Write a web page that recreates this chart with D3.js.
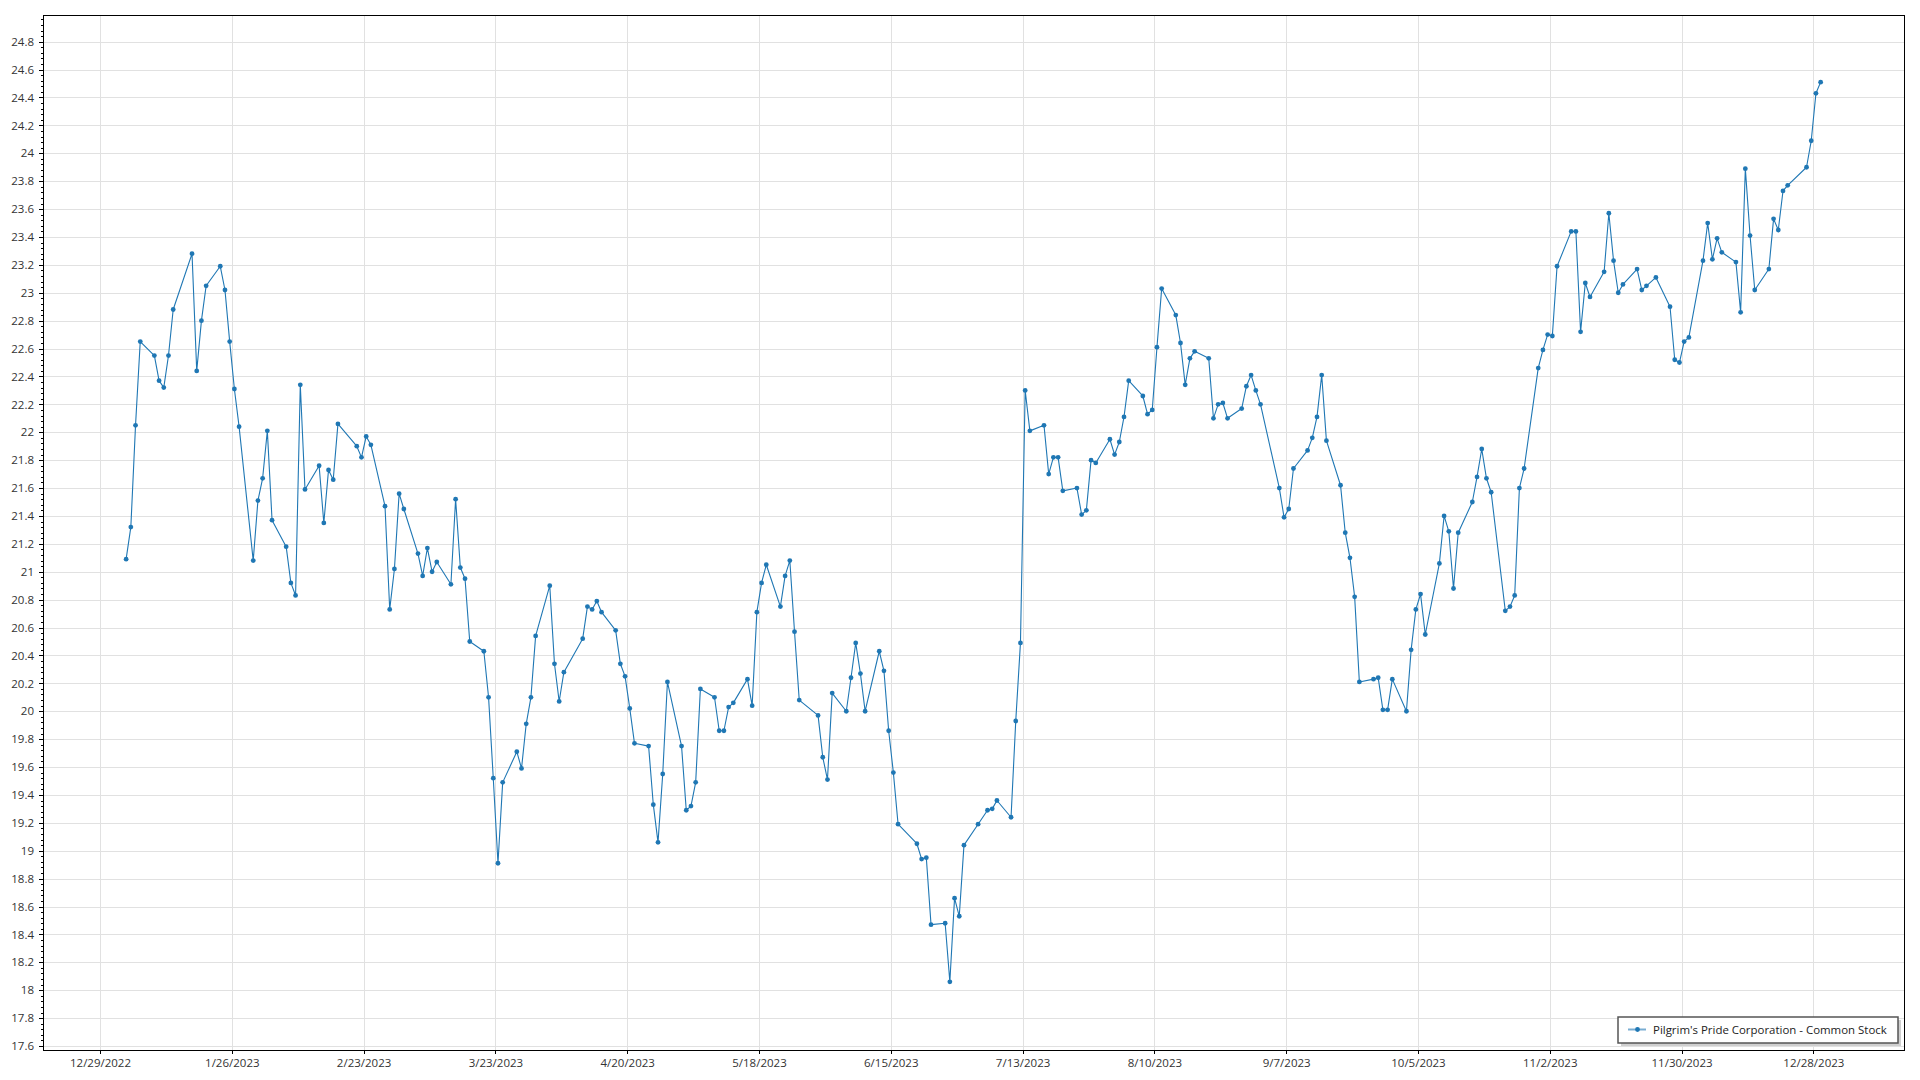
<!DOCTYPE html>
<html>
<head>
<meta charset="utf-8">
<script src="https://cdn.jsdelivr.net/npm/d3@7"></script>
<style>
  html, body { margin: 0; padding: 0; background: #fff; }
  svg { display: block; }
  text { font-family: "Open Sans", "Noto Sans", sans-serif; }
</style>
</head>
<body>
<svg id="chart" width="1920" height="1080"></svg>
<script>
// ---------------- DATA ----------------
const seriesName = "Pilgrim's Pride Corporation - Common Stock";

const dates = [
  "2023-01-03","2023-01-04","2023-01-05","2023-01-06","2023-01-09","2023-01-10","2023-01-11","2023-01-12","2023-01-13",
  "2023-01-17","2023-01-18","2023-01-19","2023-01-20","2023-01-23","2023-01-24","2023-01-25","2023-01-26","2023-01-27",
  "2023-01-30","2023-01-31","2023-02-01","2023-02-02","2023-02-03","2023-02-06","2023-02-07","2023-02-08","2023-02-09",
  "2023-02-10","2023-02-13","2023-02-14","2023-02-15","2023-02-16","2023-02-17","2023-02-21","2023-02-22","2023-02-23",
  "2023-02-24","2023-02-27","2023-02-28","2023-03-01","2023-03-02","2023-03-03","2023-03-06","2023-03-07","2023-03-08",
  "2023-03-09","2023-03-10","2023-03-13","2023-03-14","2023-03-15","2023-03-16","2023-03-17","2023-03-20","2023-03-21",
  "2023-03-22","2023-03-23","2023-03-24","2023-03-27","2023-03-28","2023-03-29","2023-03-30","2023-03-31","2023-04-03",
  "2023-04-04","2023-04-05","2023-04-06","2023-04-10","2023-04-11","2023-04-12","2023-04-13","2023-04-14","2023-04-17",
  "2023-04-18","2023-04-19","2023-04-20","2023-04-21","2023-04-24","2023-04-25","2023-04-26","2023-04-27","2023-04-28",
  "2023-05-01","2023-05-02","2023-05-03","2023-05-04","2023-05-05","2023-05-08","2023-05-09","2023-05-10","2023-05-11",
  "2023-05-12","2023-05-15","2023-05-16","2023-05-17","2023-05-18","2023-05-19","2023-05-22","2023-05-23","2023-05-24",
  "2023-05-25","2023-05-26","2023-05-30","2023-05-31","2023-06-01","2023-06-02","2023-06-05","2023-06-06","2023-06-07",
  "2023-06-08","2023-06-09","2023-06-12","2023-06-13","2023-06-14","2023-06-15","2023-06-16","2023-06-20","2023-06-21",
  "2023-06-22","2023-06-23","2023-06-26","2023-06-27","2023-06-28","2023-06-29","2023-06-30","2023-07-03","2023-07-05",
  "2023-07-06","2023-07-07","2023-07-10","2023-07-11","2023-07-12","2023-07-13","2023-07-14","2023-07-17","2023-07-18",
  "2023-07-19","2023-07-20","2023-07-21","2023-07-24","2023-07-25","2023-07-26","2023-07-27","2023-07-28","2023-07-31",
  "2023-08-01","2023-08-02","2023-08-03","2023-08-04","2023-08-07","2023-08-08","2023-08-09","2023-08-10","2023-08-11",
  "2023-08-14","2023-08-15","2023-08-16","2023-08-17","2023-08-18","2023-08-21","2023-08-22","2023-08-23","2023-08-24",
  "2023-08-25","2023-08-28","2023-08-29","2023-08-30","2023-08-31","2023-09-01","2023-09-05","2023-09-06","2023-09-07",
  "2023-09-08","2023-09-11","2023-09-12","2023-09-13","2023-09-14","2023-09-15","2023-09-18","2023-09-19","2023-09-20",
  "2023-09-21","2023-09-22","2023-09-25","2023-09-26","2023-09-27","2023-09-28","2023-09-29","2023-10-02","2023-10-03",
  "2023-10-04","2023-10-05","2023-10-06","2023-10-09","2023-10-10","2023-10-11","2023-10-12","2023-10-13","2023-10-16",
  "2023-10-17","2023-10-18","2023-10-19","2023-10-20","2023-10-23","2023-10-24","2023-10-25","2023-10-26","2023-10-27",
  "2023-10-30","2023-10-31","2023-11-01","2023-11-02","2023-11-03","2023-11-06","2023-11-07","2023-11-08","2023-11-09",
  "2023-11-10","2023-11-13","2023-11-14","2023-11-15","2023-11-16","2023-11-17","2023-11-20","2023-11-21","2023-11-22",
  "2023-11-24","2023-11-27","2023-11-28","2023-11-29","2023-11-30","2023-12-01","2023-12-04","2023-12-05","2023-12-06",
  "2023-12-07","2023-12-08","2023-12-11","2023-12-12","2023-12-13","2023-12-14","2023-12-15","2023-12-18","2023-12-19",
  "2023-12-20","2023-12-21","2023-12-22","2023-12-26","2023-12-27","2023-12-28","2023-12-29"
];

const prices = [
  21.09,21.32,22.05,22.65,22.55,22.37,22.32,22.55,22.88,
  23.28,22.44,22.80,23.05,23.19,23.02,22.65,22.31,22.04,
  21.08,21.51,21.67,22.01,21.37,21.18,20.92,20.83,22.34,
  21.59,21.76,21.35,21.73,21.66,22.06,21.90,21.82,21.97,
  21.91,21.47,20.73,21.02,21.56,21.45,21.13,20.97,21.17,
  21.00,21.07,20.91,21.52,21.03,20.95,20.50,20.43,20.10,
  19.52,18.91,19.49,19.71,19.59,19.91,20.10,20.54,20.90,
  20.34,20.07,20.28,20.52,20.75,20.73,20.79,20.71,20.58,
  20.34,20.25,20.02,19.77,19.75,19.33,19.06,19.55,20.21,
  19.75,19.29,19.32,19.49,20.16,20.10,19.86,19.86,20.03,
  20.06,20.23,20.04,20.71,20.92,21.05,20.75,20.97,21.08,
  20.57,20.08,19.97,19.67,19.51,20.13,20.00,20.24,20.49,
  20.27,20.00,20.43,20.29,19.86,19.56,19.19,19.05,18.94,
  18.95,18.47,18.48,18.06,18.66,18.53,19.04,19.19,19.29,
  19.30,19.36,19.24,19.93,20.49,22.30,22.01,22.05,21.70,
  21.82,21.82,21.58,21.60,21.41,21.44,21.80,21.78,21.95,
  21.84,21.93,22.11,22.37,22.26,22.13,22.16,22.61,23.03,
  22.84,22.64,22.34,22.53,22.58,22.53,22.10,22.20,22.21,
  22.10,22.17,22.33,22.41,22.30,22.20,21.60,21.39,21.45,
  21.74,21.87,21.96,22.11,22.41,21.94,21.62,21.28,21.10,
  20.82,20.21,20.23,20.24,20.01,20.01,20.23,20.00,20.44,
  20.73,20.84,20.55,21.06,21.40,21.29,20.88,21.28,21.50,
  21.68,21.88,21.67,21.57,20.72,20.75,20.83,21.60,21.74,
  22.46,22.59,22.70,22.69,23.19,23.44,23.44,22.72,23.07,
  22.97,23.15,23.57,23.23,23.00,23.06,23.17,23.02,23.05,
  23.11,22.90,22.52,22.50,22.65,22.68,23.23,23.50,23.24,
  23.39,23.29,23.22,22.86,23.89,23.41,23.02,23.17,23.53,
  23.45,23.73,23.77,23.90,24.09,24.43,24.51
];

const xTickLabels = ["12/29/2022","1/26/2023","2/23/2023","3/23/2023","4/20/2023","5/18/2023","6/15/2023",
  "7/13/2023","8/10/2023","9/7/2023","10/5/2023","11/2/2023","11/30/2023","12/28/2023"];

const yTicks = [17.6,17.8,18,18.2,18.4,18.6,18.8,19,19.2,19.4,19.6,19.8,20,20.2,20.4,20.6,20.8,21,
  21.2,21.4,21.6,21.8,22,22.2,22.4,22.6,22.8,23,23.2,23.4,23.6,23.8,24,24.2,24.4,24.6,24.8];

// ---------------- LAYOUT ----------------
const plot = { left: 43, top: 15, right: 1905, bottom: 1050 };
const DAY = 86400000;
const anchor = Date.UTC(2022, 11, 29);

const parseISO = d3.utcParse("%Y-%m-%d");
const parseTick = d3.utcParse("%m/%d/%Y");

const x = d3.scaleUtc()
  .domain([new Date(anchor - 12.11 * DAY), new Date(anchor + 383.47 * DAY)])
  .range([plot.left, plot.right]);

const y = d3.scaleLinear()
  .domain([17.5713, 24.9914])
  .range([plot.bottom, plot.top]);

const data = dates.map((d, i) => ({ date: new Date(+parseISO(d) + 0.55 * DAY), value: prices[i] }));
const xTicks = xTickLabels.map(s => ({ label: s, date: parseTick(s) }));

const svg = d3.select("#chart");
svg.append("rect").attr("width", 1920).attr("height", 1080).attr("fill", "#fff");

// gridlines
const grid = svg.append("g").attr("shape-rendering", "crispEdges");
grid.selectAll("line.h").data(yTicks).join("line")
  .attr("x1", plot.left).attr("x2", plot.right)
  .attr("y1", d => Math.round(y(d)) + 0.5).attr("y2", d => Math.round(y(d)) + 0.5)
  .attr("stroke", "#e1e1e1").attr("stroke-width", 1);
grid.selectAll("line.v").data(xTicks).join("line")
  .attr("y1", plot.top).attr("y2", plot.bottom)
  .attr("x1", d => Math.round(x(d.date)) + 0.5).attr("x2", d => Math.round(x(d.date)) + 0.5)
  .attr("stroke", "#e1e1e1").attr("stroke-width", 1);

// Y axis (major + minor ticks)
const yAxis = d3.axisLeft(y).tickValues(yTicks).tickSize(4).tickSizeOuter(0)
  .tickFormat(d => String(+d.toFixed(1)));
const gy = svg.append("g").attr("transform", `translate(${plot.left},0)`).call(yAxis);
gy.select(".domain").remove();
gy.selectAll(".tick line").attr("stroke", "#000").attr("shape-rendering", "crispEdges");
gy.selectAll(".tick text").attr("fill", "#333").attr("font-size", 11.5)
  .attr("font-family", "'Open Sans', sans-serif").attr("x", -9);

const minor = d3.range(0, 186).map(i => 17.6 + i * 0.04).filter(v => v <= 24.99);
const yMinorAxis = d3.axisLeft(y).tickValues(minor).tickSize(2).tickFormat("").tickSizeOuter(0);
const gym = svg.append("g").attr("transform", `translate(${plot.left},0)`).call(yMinorAxis);
gym.select(".domain").remove();
gym.selectAll(".tick line").attr("stroke", "#000").attr("shape-rendering", "crispEdges");

// X axis
const xAxis = d3.axisBottom(x).tickValues(xTicks.map(d => d.date)).tickSize(4).tickSizeOuter(0)
  .tickFormat((d, i) => xTickLabels[i]);
const gx = svg.append("g").attr("transform", `translate(0,${plot.bottom})`).call(xAxis);
gx.select(".domain").remove();
gx.selectAll(".tick line").attr("stroke", "#000").attr("shape-rendering", "crispEdges");
gx.selectAll(".tick text").attr("fill", "#333").attr("font-size", 11.5)
  .attr("font-family", "'Open Sans', sans-serif").attr("dy", null).attr("y", 17);

// frame
svg.append("rect")
  .attr("x", plot.left + 0.5).attr("y", plot.top + 0.5)
  .attr("width", plot.right - plot.left - 1).attr("height", plot.bottom - plot.top)
  .attr("fill", "none").attr("stroke", "#000").attr("stroke-width", 1)
  .attr("shape-rendering", "crispEdges");

// series
const line = d3.line().x(d => x(d.date)).y(d => y(d.value));
svg.append("path").datum(data)
  .attr("d", line).attr("fill", "none")
  .attr("stroke", "#1f77b4").attr("stroke-width", 1.1).attr("stroke-linejoin", "round");

svg.append("g").selectAll("circle").data(data).join("circle")
  .attr("cx", d => x(d.date)).attr("cy", d => y(d.value)).attr("r", 2.4)
  .attr("fill", "#1f77b4");

// legend
const lg = svg.append("g");
const lb = { x: 1618, y: 1017, w: 280, h: 26 };
lg.append("rect").attr("x", lb.x + 3).attr("y", lb.y + 3).attr("width", lb.w).attr("height", lb.h)
  .attr("fill", "#cfcfcf");
lg.append("rect").attr("x", lb.x).attr("y", lb.y).attr("width", lb.w).attr("height", lb.h)
  .attr("fill", "#fff").attr("stroke", "#555").attr("stroke-width", 1.5);
lg.append("line").attr("x1", lb.x + 10).attr("x2", lb.x + 28).attr("y1", lb.y + 12.5).attr("y2", lb.y + 12.5)
  .attr("stroke", "#1f77b4").attr("stroke-opacity", 0.6).attr("stroke-width", 2);
lg.append("circle").attr("cx", lb.x + 19.5).attr("cy", lb.y + 12.5).attr("r", 2.4).attr("fill", "#1f77b4");
const lt = lg.append("text").attr("x", lb.x + 35).attr("y", lb.y + 16.5)
  .attr("fill", "#222").attr("font-size", 11.5).text(seriesName);
const w = lt.node().getComputedTextLength();
if (w > 0) lt.attr("font-size", 11.5 * 234 / w);
</script>
</body>
</html>
